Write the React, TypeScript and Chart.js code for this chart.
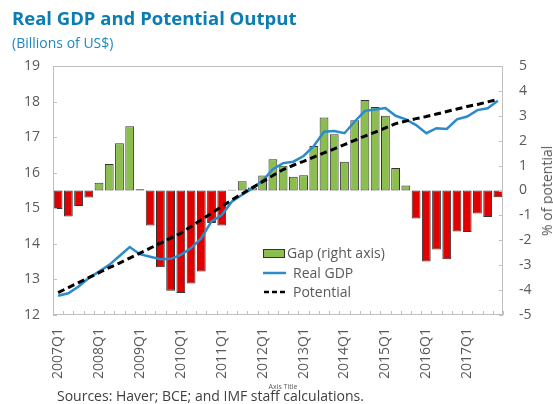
import React, { useEffect, useRef } from 'react';
import { Chart, registerables } from 'chart.js';

Chart.register(...registerables);

const quarters = [
  '2007Q1', '2007Q2', '2007Q3', '2007Q4',
  '2008Q1', '2008Q2', '2008Q3', '2008Q4',
  '2009Q1', '2009Q2', '2009Q3', '2009Q4',
  '2010Q1', '2010Q2', '2010Q3', '2010Q4',
  '2011Q1', '2011Q2', '2011Q3', '2011Q4',
  '2012Q1', '2012Q2', '2012Q3', '2012Q4',
  '2013Q1', '2013Q2', '2013Q3', '2013Q4',
  '2014Q1', '2014Q2', '2014Q3', '2014Q4',
  '2015Q1', '2015Q2', '2015Q3', '2015Q4',
  '2016Q1', '2016Q2', '2016Q3', '2016Q4',
  '2017Q1', '2017Q2', '2017Q3', '2017Q4',
];

// Output gap, % of potential (right axis)
const gap = [
  -0.74, -1.04, -0.62, -0.28,
  0.31, 1.06, 1.9, 2.58,
  0.05, -1.41, -3.08, -4.03,
  -4.12, -3.73, -3.25, -1.31,
  -1.41, 0.03, 0.37, 0.12,
  0.6, 1.26, 0.99, 0.55,
  0.61, 1.79, 2.93, 2.26,
  1.15, 2.82, 3.63, 3.35,
  3.0, 0.9, 0.2, -1.12,
  -2.85, -2.37, -2.76, -1.65,
  -1.67, -0.92, -1.06, -0.27,
];

// Real GDP, billions of US$ (left axis)
const realGdp = [
  12.54, 12.61, 12.8, 13.04,
  13.22, 13.41, 13.66, 13.91,
  13.71, 13.64, 13.57, 13.58,
  13.69, 13.88, 14.16, 14.63,
  14.81, 15.19, 15.38, 15.56,
  15.78, 16.1, 16.27, 16.31,
  16.47, 16.75, 17.15, 17.17,
  17.11, 17.44, 17.74, 17.78,
  17.82, 17.6, 17.5, 17.34,
  17.11, 17.25, 17.23, 17.5,
  17.58, 17.76, 17.81, 18.02,
];

// Potential output, billions of US$ (left axis)
const potential = [
  12.63, 12.77, 12.91, 13.05,
  13.19, 13.33, 13.46, 13.6,
  13.74, 13.88, 14.02, 14.16,
  14.3, 14.49, 14.68, 14.86,
  15.05, 15.24, 15.41, 15.58,
  15.75, 15.92, 16.09, 16.21,
  16.32, 16.44, 16.56, 16.67,
  16.79, 16.91, 17.03, 17.14,
  17.26, 17.38, 17.45, 17.52,
  17.58, 17.65, 17.72, 17.79,
  17.86, 17.92, 17.99, 18.06,
];

const leftTicks = { min: 12, max: 19, step: 1 };
const rightTicks = { min: -5, max: 5, step: 1 };

const FONT = '"Open Sans", "Noto Sans", sans-serif';
const GREEN = '#8CBE4F';
const RED = '#E00000';
const BLUE = '#2B8BCB';
const TEXT = '#595959';
const FRAME = '#BFBFBF';

export default function App() {
  const ref = useRef<HTMLCanvasElement | null>(null);

  useEffect(() => {
    const canvas = ref.current;
    if (!canvas) return;

    const framePlugin = {
      id: 'frame',
      afterDatasetsDraw(chart: any) {
        const { ctx, chartArea } = chart;
        const { left, right, top, bottom } = chartArea;
        ctx.save();
        ctx.strokeStyle = FRAME;
        ctx.lineWidth = 1;
        ctx.strokeRect(left + 0.5, top + 0.5, right - left - 1, bottom - top - 1);
        // x ticks at category boundaries (inside)
        const xs = chart.scales.x;
        const step = xs.getPixelForValue(1) - xs.getPixelForValue(0);
        ctx.beginPath();
        for (let i = 0; i <= quarters.length; i++) {
          const px = Math.round(xs.getPixelForValue(i) - step / 2) + 0.5;
          ctx.moveTo(px, bottom);
          ctx.lineTo(px, bottom - 4);
        }
        const ys = chart.scales.y;
        for (let v = leftTicks.min; v <= leftTicks.max; v += leftTicks.step) {
          const py = Math.round(ys.getPixelForValue(v)) + 0.5;
          ctx.moveTo(left, py);
          ctx.lineTo(left + 4, py);
        }
        const y1 = chart.scales.y1;
        for (let v = rightTicks.min; v <= rightTicks.max; v += rightTicks.step) {
          const py = Math.round(y1.getPixelForValue(v)) + 0.5;
          ctx.moveTo(right, py);
          ctx.lineTo(right - 4, py);
        }
        ctx.stroke();

        // legend
        const lx = 263;
        ctx.font = `14px ${FONT}`;
        ctx.fillStyle = TEXT;
        ctx.textBaseline = 'middle';
        ctx.textAlign = 'left';
        ctx.fillStyle = GREEN;
        ctx.fillRect(lx, 249, 22, 9);
        ctx.strokeStyle = '#333';
        ctx.strokeRect(lx + 0.5, 249.5, 21, 8);
        ctx.fillStyle = TEXT;
        ctx.fillText('Gap (right axis)', lx + 24, 254);
        ctx.strokeStyle = BLUE;
        ctx.lineWidth = 2.5;
        ctx.beginPath();
        ctx.moveTo(lx, 273);
        ctx.lineTo(lx + 23, 273);
        ctx.stroke();
        ctx.fillText('Real GDP', lx + 30, 274);
        ctx.strokeStyle = '#000';
        ctx.setLineDash([5, 3]);
        ctx.beginPath();
        ctx.moveTo(lx + 1, 292);
        ctx.lineTo(lx + 23, 292);
        ctx.stroke();
        ctx.setLineDash([]);
        ctx.fillText('Potential', lx + 30, 293);
        ctx.restore();
      },
    };

    const chart = new Chart(canvas, {
      type: 'bar',
      data: {
        labels: quarters,
        datasets: [
          {
            type: 'line',
            label: 'Potential',
            data: potential,
            yAxisID: 'y',
            borderColor: '#000',
            borderWidth: 3,
            borderDash: [7, 4],
            pointRadius: 0,
            tension: 0,
            order: 0,
          } as any,
          {
            type: 'line',
            label: 'Real GDP',
            data: realGdp,
            yAxisID: 'y',
            borderColor: BLUE,
            borderWidth: 2.5,
            pointRadius: 0,
            tension: 0,
            order: 1,
          } as any,
          {
            type: 'bar',
            label: 'Gap (right axis)',
            data: gap,
            yAxisID: 'y1',
            backgroundColor: gap.map((v) => (v < 0 ? RED : GREEN)),
            borderColor: '#333',
            borderWidth: 1,
            borderSkipped: false,
            categoryPercentage: 1,
            barPercentage: 0.86,
            order: 2,
          } as any,
        ],
      },
      options: {
        animation: false,
        responsive: false,
        maintainAspectRatio: false,
        layout: { padding: { top: 66, left: 0, right: 0, bottom: 0 } },
        plugins: { legend: { display: false }, tooltip: { enabled: false } },
        scales: {
          x: {
            offset: true,
            grid: { display: false, drawTicks: false },
            border: { display: false },
            ticks: {
              autoSkip: false,
              maxRotation: 90,
              minRotation: 90,
              padding: 13,
              color: TEXT,
              font: { family: FONT, size: 14 },
              callback: (_v: any, i: number) => (quarters[i].endsWith('Q1') ? quarters[i] : ''),
            },
            afterFit: (s: any) => { s.height = 89; },
          },
          y: {
            position: 'left',
            min: leftTicks.min,
            max: leftTicks.max,
            grid: { display: false, drawTicks: false },
            border: { display: false },
            ticks: { stepSize: leftTicks.step, padding: 13, color: TEXT, font: { family: FONT, size: 14 } },
            afterFit: (s: any) => { s.width = 53; },
          },
          y1: {
            position: 'right',
            min: rightTicks.min,
            max: rightTicks.max,
            grid: { display: false, drawTicks: false },
            border: { display: false },
            ticks: { stepSize: rightTicks.step, padding: 16, color: TEXT, font: { family: FONT, size: 14 } },
            afterFit: (s: any) => { s.width = 50; },
          },
        },
      } as any,
      plugins: [framePlugin],
    });
    return () => chart.destroy();
  }, []);

  return (
    <div style={{ position: 'fixed', left: 0, top: 0, width: 553, height: 404, background: '#fff', overflow: 'hidden', fontFamily: FONT }}>
      <canvas ref={ref} width={553} height={404} style={{ position: 'absolute', left: 0, top: 0, width: 553, height: 404 }} />
      <div style={{ position: 'absolute', left: 12, top: 5, fontSize: 18.5, fontWeight: 700, color: '#0B7DB3', whiteSpace: 'nowrap', lineHeight: '26px' }}>
        Real GDP and Potential Output
      </div>
      <div style={{ position: 'absolute', left: 12, top: 34, fontSize: 14, color: '#1E88C0', whiteSpace: 'nowrap', lineHeight: '18px' }}>
        (Billions of US$)
      </div>
      <div style={{ position: 'absolute', left: 547, top: 191, transform: 'translate(-50%, -50%) rotate(-90deg)', fontSize: 14, color: TEXT, whiteSpace: 'nowrap', lineHeight: '16px' }}>
        % of potential
      </div>
      <div style={{ position: 'absolute', left: 283, top: 382, transform: 'translateX(-50%)', fontSize: 7, color: TEXT, whiteSpace: 'nowrap', lineHeight: '9px' }}>
        Axis Title
      </div>
      <div style={{ position: 'absolute', left: 57, top: 387, fontSize: 14, color: '#404040', whiteSpace: 'nowrap', lineHeight: '18px' }}>
        Sources: Haver; BCE; and IMF staff calculations.
      </div>
    </div>
  );
}
